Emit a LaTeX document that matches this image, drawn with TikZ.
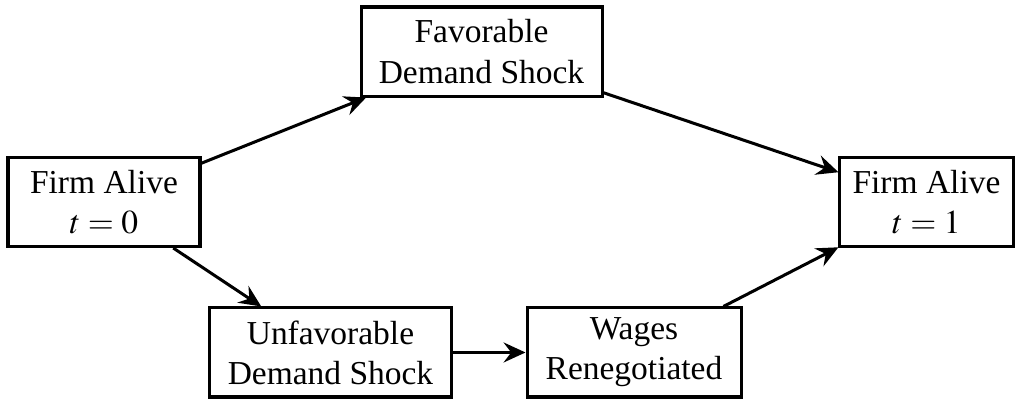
\documentclass[tikz,border=0pt]{standalone}
\usepackage{mathptmx}
\usepackage[no-math]{fontspec}
\setmainfont{Liberation Serif}
\usetikzlibrary{positioning, arrows.meta}

\tikzset{
    box/.style={draw, line width=0.9pt, align=center,
        minimum height=0.935cm, inner sep=2pt},
    flow/.style={line width=0.9pt, -{Stealth[length=2.3mm, width=2.1mm, inset=0.8mm]}}
}

\begin{document}
\begin{tikzpicture}
\useasboundingbox (0,0) rectangle (10.71,4.179);

\node[box, minimum width=2.016cm] (alive0) at (1.092,2.058) {Firm Alive\\$t=0$};
\node[box, minimum width=2.53cm] (fav) at (5.056,3.638) {Favorable\\Demand Shock};
\node[box, minimum width=1.817cm] (alive1) at (9.728,2.058) {Firm Alive\\$t=1$};

\node[box, minimum width=2.55cm] (unfav) at (3.470,0.478) {Unfavorable\\Demand Shock};
\node[box, minimum width=2.247cm] (wages) at (6.657,0.478) {Wages\\Renegotiated};

\draw
    (alive0) edge[flow] (fav)
    (fav) edge[flow] (alive1)
    (alive0) edge[flow] (unfav)
    (unfav) edge[flow] (wages)
    (wages) edge[flow] (alive1)
    ;
\end{tikzpicture}
\end{document}
